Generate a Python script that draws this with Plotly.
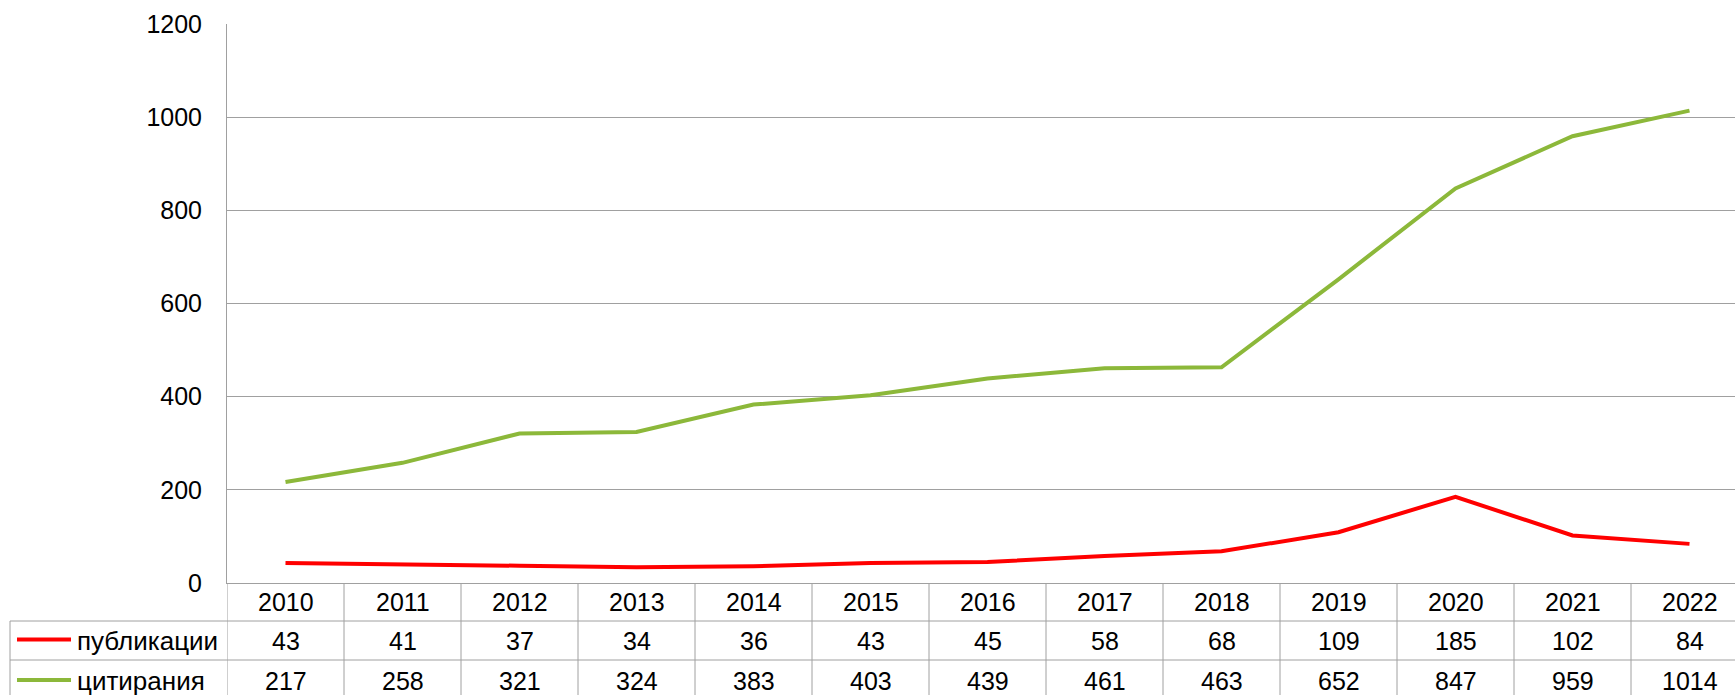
import plotly.graph_objects as go

# Data
years = ["2010", "2011", "2012", "2013", "2014", "2015", "2016",
         "2017", "2018", "2019", "2020", "2021", "2022"]
publications = [43, 41, 37, 34, 36, 43, 45, 58, 68, 109, 185, 102, 84]
citations = [217, 258, 321, 324, 383, 403, 439, 461, 463, 652, 847, 959, 1014]
series_names = ["публикации", "цитирания"]
y_ticks = [0, 200, 400, 600, 800, 1000, 1200]

# Styling / layout constants (pixels)
W, H = 1735, 695
PLOT_LEFT, PLOT_TOP, PLOT_BOTTOM = 227, 24, 583
ROW1_BOTTOM, ROW2_BOTTOM = 621, 660
TABLE_LEFT = 10
COLORS = ["#FF0000", "#8CB83A"]
GRID = "#A0A0A0"
FONT = "Liberation Sans, Arial, sans-serif"
FS = 25


def py(px):
    """Pixel row -> paper y."""
    return 1 - px / H


def px_x(px):
    """Pixel column -> paper x."""
    return px / W


x_idx = list(range(len(years)))

fig = go.Figure()
for name, vals, col in zip(series_names, [publications, citations], COLORS):
    fig.add_trace(go.Scatter(
        x=x_idx, y=vals, mode="lines", name=name,
        line=dict(color=col, width=4), showlegend=False,
    ))

shapes = []
annotations = []

# vertical cell separators of the data table
for i in range(len(years) + 1):
    shapes.append(dict(type="line", xref="x", yref="paper",
                       x0=i - 0.5, x1=i - 0.5, y0=0, y1=py(PLOT_BOTTOM),
                       line=dict(color=GRID, width=1)))
# horizontal row separators
for row_px in (ROW1_BOTTOM, ROW2_BOTTOM):
    shapes.append(dict(type="line", xref="paper", yref="paper",
                       x0=px_x(TABLE_LEFT), x1=1, y0=py(row_px), y1=py(row_px),
                       line=dict(color=GRID, width=1)))
# left border of the legend column
shapes.append(dict(type="line", xref="paper", yref="paper",
                   x0=px_x(TABLE_LEFT), x1=px_x(TABLE_LEFT),
                   y0=0, y1=py(ROW1_BOTTOM),
                   line=dict(color=GRID, width=1)))

# header row: years
for i, yr in zip(x_idx, years):
    annotations.append(dict(x=i, xref="x", y=py(602), yref="paper",
                            text=yr, showarrow=False,
                            font=dict(family=FONT, size=FS, color="black"),
                            xanchor="center", yanchor="middle"))

# value rows with legend keys
row_centers = [640.5, 681]
for name, vals, col, yc in zip(series_names, [publications, citations],
                               COLORS, row_centers):
    shapes.append(dict(type="line", xref="paper", yref="paper",
                       x0=px_x(17), x1=px_x(71), y0=py(yc - 1), y1=py(yc - 1),
                       line=dict(color=col, width=4)))
    annotations.append(dict(x=px_x(75), xref="paper", y=py(yc), yref="paper",
                            text=name, showarrow=False,
                            font=dict(family=FONT, size=26, color="black"),
                            xanchor="left", yanchor="middle"))
    for i, v in zip(x_idx, vals):
        annotations.append(dict(x=i, xref="x", y=py(yc), yref="paper",
                                text=str(v), showarrow=False,
                                font=dict(family=FONT, size=FS, color="black"),
                                xanchor="center", yanchor="middle"))

col_w = 117.0
x_max = -0.5 + (W - PLOT_LEFT) / col_w

fig.update_layout(
    width=W, height=H,
    margin=dict(l=0, r=0, t=0, b=0, pad=0),
    paper_bgcolor="white", plot_bgcolor="white",
    font=dict(family=FONT, size=FS, color="black"),
    shapes=shapes, annotations=annotations,
    xaxis=dict(
        domain=[px_x(PLOT_LEFT), 1], automargin=False,
        range=[-0.5, x_max], showticklabels=False, showgrid=False,
        zeroline=False, showline=True, linecolor=GRID, linewidth=1,
        ticks="", fixedrange=True,
    ),
    yaxis=dict(
        domain=[py(PLOT_BOTTOM), py(PLOT_TOP)], range=[0, 1200],
        automargin=False,
        tickvals=y_ticks, ticktext=[str(t) for t in y_ticks],
        showgrid=True, gridcolor=GRID, gridwidth=1,
        zeroline=False, showline=True, linecolor=GRID, linewidth=1,
        ticks="outside", ticklen=0, ticklabelstandoff=19,
        tickfont=dict(family=FONT, size=FS, color="black"),
        fixedrange=True,
    ),
)

fig.write_html("out.html")
